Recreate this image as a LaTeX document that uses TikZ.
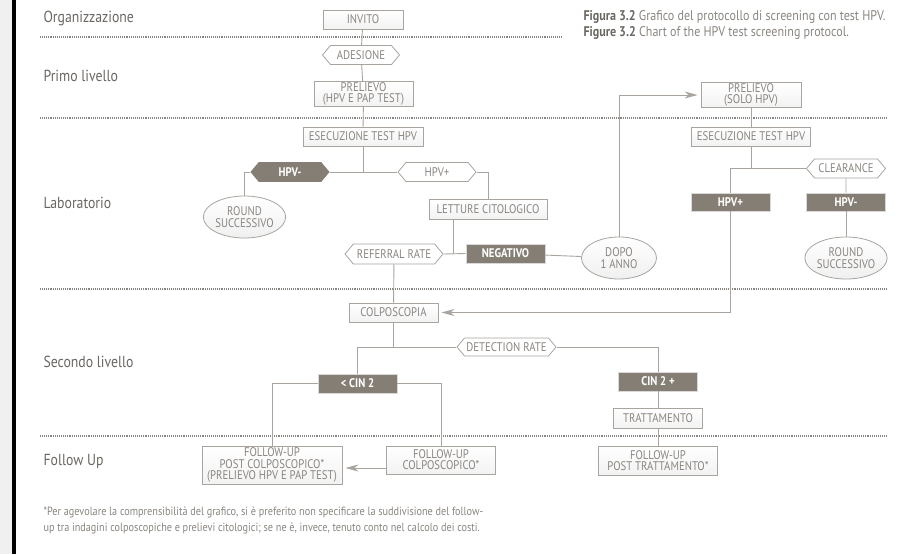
\documentclass[tikz,border=0pt]{standalone}
\usepackage{fontspec}
\setmainfont{PT Sans}[FakeStretch=0.86]
\usetikzlibrary{shapes.geometric,shapes.symbols,arrows.meta,shadows}

\definecolor{linegray}{HTML}{A9A49E}
\definecolor{textgray}{HTML}{8A8580}
\definecolor{labelgray}{HTML}{6A6661}
\definecolor{darkbox}{HTML}{857E75}
\definecolor{sidegray}{HTML}{F0F0F0}

\tikzset{
  conn/.style={draw=linegray, line width=0.9pt},
  arrowto/.style={-{Stealth[length=13pt, width=7pt, inset=4pt]}, shorten >=3pt},
  level/.style={draw=labelgray!80, line width=1.1pt, dash pattern=on 1pt off 0.9pt},
  boxnode/.style={draw=linegray, line width=0.8pt, top color=white, bottom color=black!5,
    text=textgray, font=\fontsize{12.5}{11.2}\selectfont, align=center, inner sep=1pt,
    minimum height=19pt, drop shadow={shadow xshift=0.8pt, shadow yshift=-0.8pt, opacity=0.15}},
  tagnode/.style={signal, signal to=west and east, signal pointer angle=100, draw=linegray,
    line width=0.8pt, fill=white, text=textgray, font=\fontsize{12.5}{11.2}\selectfont,
    inner sep=1pt, minimum height=19pt},
  darknode/.style={draw=black!15, line width=0.6pt, fill=darkbox, text=white,
    font=\bfseries\fontsize{12.5}{11.2}\selectfont, inner sep=1pt, minimum width=79pt, minimum height=19pt},
  darktag/.style={tagnode, draw=darkbox, fill=darkbox, text=white, font=\bfseries\fontsize{12.5}{11.2}\selectfont},
  oval/.style={ellipse, draw=linegray, line width=0.8pt, top color=white, bottom color=black!6,
    text=textgray, font=\fontsize{12.5}{11.5}\selectfont, align=center, inner sep=0pt,
    minimum width=75pt, minimum height=42pt},
  rowlabel/.style={anchor=west, text=labelgray, font=\fontsize{16}{18}\selectfont},
  caption/.style={anchor=west, text=textgray, font=\fontsize{14}{16}\selectfont},
  note/.style={anchor=north west, align=left, text=textgray, font=\fontsize{11.9}{16}\selectfont}
}

\begin{document}
\begin{tikzpicture}[x=1pt, y=-1pt]
    \useasboundingbox (0, 0) rectangle (920, 554);
    \fill [sidegray] (0, 0) rectangle (12.3, 554);
    \fill [black] (12.3, 0) rectangle (15.8, 554);
    \node [rowlabel] (orga) at (40, 18) {Organizzazione};
    \node [rowlabel] (primo) at (40, 76) {Primo livello};
    \node [rowlabel] (labo) at (40, 203) {Laboratorio};
    \node [rowlabel] (secondo) at (40, 362) {Secondo livello};
    \node [rowlabel] (follow) at (40, 461) {Follow Up};
    \draw [level] (40, 37) -- (561, 37);
    \draw [level] (40, 118) -- (887, 118);
    \draw [level] (40, 289) -- (887, 289);
    \draw [level] (40, 436) -- (887, 436);
    \node [caption] (cap1) at (580, 17) {\textcolor{labelgray}{\bfseries Figura 3.2} Grafico del protocollo di screening con test HPV.};
    \node [caption] (cap2) at (580, 33) {\textcolor{labelgray}{\bfseries Figure 3.2} Chart of the HPV test screening protocol.};
    \node [boxnode, minimum width=80pt] (invito) at (363, 19.5) {INVITO};
    \node [tagnode, minimum width=77pt] (adesione) at (361, 55) {ADESIONE};
    \node [boxnode, minimum width=99pt, minimum height=24pt] (prel1) at (363.5, 94) {PRELIEVO\\(HPV E PAP TEST)};
    \node [boxnode, minimum width=120pt] (esec1) at (363, 136.5) {ESECUZIONE TEST HPV};
    \node [darktag, minimum width=78pt] (neg1) at (290, 172) {HPV-};
    \node [tagnode, minimum width=78pt] (pos1) at (437, 172) {HPV+};
    \node [oval] (round1) at (244.5, 217) {ROUND\\SUCCESSIVO};
    \node [boxnode, minimum width=118pt, minimum height=20pt] (lettura) at (488, 209) {LETTURE CITOLOGICO};
    \node [tagnode, minimum width=98pt, minimum height=20pt] (referral) at (394, 254) {REFERRAL RATE};
    \node [darknode] (negativo) at (505.5, 253.5) {NEGATIVO};
    \node [oval] (dopo) at (619, 258) {DOPO\\1 ANNO};
    \node [boxnode, minimum width=100pt, minimum height=25pt] (prel2) at (751, 95) {PRELIEVO\\(SOLO HPV)};
    \node [boxnode, minimum width=119pt] (esec2) at (751, 136.5) {ESECUZIONE TEST HPV};
    \node [tagnode, minimum width=79pt] (clearance) at (846, 168.5) {CLEARANCE};
    \node [darknode, minimum height=18pt] (pos2) at (730.5, 202) {HPV+};
    \node [darknode, minimum height=18pt] (neg2) at (846, 202) {HPV-};
    \node [oval] (round2) at (846, 258) {ROUND\\SUCCESSIVO};
    \node [boxnode, minimum width=89pt] (colpo) at (393.5, 312.5) {COLPOSCOPIA};
    \node [tagnode, minimum width=99pt, minimum height=18pt] (detection) at (506.5, 347) {DETECTION RATE};
    \node [darknode] (cinlow) at (357.5, 383.5) {< CIN 2};
    \node [darknode] (cinhigh) at (658, 381.5) {CIN 2 +};
    \node [boxnode, minimum width=89pt, minimum height=20pt] (tratt) at (658, 418) {TRATTAMENTO};
    \node [boxnode, minimum width=140pt, minimum height=38pt] (fup1) at (272, 465) {FOLLOW-UP\\POST COLPOSCOPICO*\\(PRELIEVO HPV E PAP TEST)};
    \node [boxnode, minimum width=109pt, minimum height=28pt] (fup2) at (441, 460) {FOLLOW-UP\\COLPOSCOPICO*};
    \node [boxnode, minimum width=119pt, minimum height=29pt] (fup3) at (658, 460.5) {FOLLOW-UP\\POST TRATTAMENTO*};
    \node [note] (nota) at (40, 503) {*Per agevolare la comprensibilità del grafico, si è preferito non specificare la suddivisione del follow-\\up tra indagini colposcopiche e prelievi citologici; se ne è, invece, tenuto conto nel calcolo dei costi.};
    \coordinate (cito) at (453, 254);
    \draw [conn] (invito) -- (adesione);
    \draw [conn] (adesione) -- (prel1);
    \draw [conn] (prel1) -- (esec1);
    \draw [conn] (neg1.east) -- (pos1.west);
    \draw [conn] (esec1) -- (esec1 |- pos1);
    \draw [conn] (neg1.west) -| (round1);
    \draw [conn] (pos1.east) -| (lettura);
    \draw [conn] (referral.east) -- (negativo.west);
    \draw [conn] (lettura.south -| cito) -- (cito);
    \draw [conn] (negativo) -- (dopo);
    \draw [conn, arrowto] (dopo) |- (prel2);
    \draw [conn] (prel2) -- (esec2);
    \draw [conn] (esec2) |- (clearance.west);
    \draw [conn] (clearance.west) -| (pos2);
    \draw [conn] (clearance) -- (neg2);
    \draw [conn] (neg2) -- (round2);
    \draw [conn, arrowto] (pos2) |- (colpo);
    \draw [conn] (referral) -- (colpo);
    \draw [conn] (colpo) |- (detection.west);
    \draw [conn] (detection.west) -| (cinlow);
    \draw [conn] (detection.east) -| (cinhigh);
    \draw [conn] (cinlow.west) -| (fup1);
    \draw [conn] (cinlow.east) -| (fup2);
    \draw [conn] (cinhigh) -- (tratt);
    \draw [conn] (tratt) -- (fup3);
    \draw [conn, arrowto] ([yshift=-8pt]fup2.west) -- ([yshift=-8pt]fup2.west -| fup1.east);
  \end{tikzpicture}
\end{document}
